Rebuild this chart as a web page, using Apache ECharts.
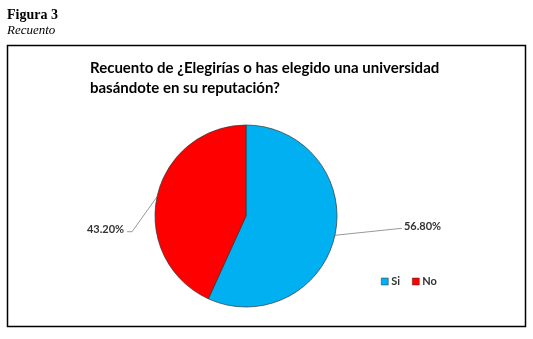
<!DOCTYPE html>
<html><head><meta charset="utf-8">
<script src="https://cdn.jsdelivr.net/npm/echarts@6/dist/echarts.min.js"></script>
<style>html,body{margin:0;padding:0;background:#fff}#c{width:533px;height:339px}</style>
</head><body><div id="c"></div>
<script>
const categories = ['Si', 'No'];
const values = [56.8, 43.2];
const colors = ['#00B0F0', '#FF0000'];

const chart = echarts.init(document.getElementById('c'), null, {renderer: 'canvas'});
chart.setOption({
  animation: false,
  title: [
    {text: 'Figura 3', left: 2, top: 3, textStyle: {fontFamily: 'Liberation Serif', fontWeight: 'bold', fontSize: 14, color: '#000'}},
    {text: 'Recuento', left: 2, top: 19, textStyle: {fontFamily: 'Liberation Serif', fontStyle: 'italic', fontWeight: 'normal', fontSize: 13, color: '#000'}},
    {text: 'Recuento de ¿Elegirías o has elegido una universidad\nbasándote en su reputación?', left: 85, top: 53,
     textStyle: {fontFamily: 'Lato', fontWeight: 'bold', fontSize: 15, lineHeight: 20, color: '#000'}}
  ],
  graphic: [{type: 'rect', shape: {x: 7.5, y: 45.5, width: 518, height: 281}, style: {fill: 'none', stroke: '#000', lineWidth: 1.5}, z: -1}],
  legend: {left: 376, top: 271, icon: 'rect', itemWidth: 7, itemHeight: 7, itemGap: 12,
    data: categories,
    itemStyle: {borderColor: '#333', borderWidth: 0.5},
    textStyle: {fontFamily: 'Lato', fontWeight: 'bold', fontSize: 11, color: '#333', padding: [0,0,0,-2]}},
  series: [{
    type: 'pie', center: [246, 216], radius: 91, startAngle: 90, clockwise: true,
    data: categories.map((c, i) => ({name: c, value: values[i], itemStyle: {color: colors[i]}})),
    itemStyle: {borderColor: '#333', borderWidth: 0.7},
    label: {show: true, formatter: p => p.value.toFixed(2) + '%', fontFamily: 'Lato', fontWeight: 'bold', fontSize: 11, color: '#333'},
    labelLine: {show: true, length: 4, length2: 60, smooth: false, lineStyle: {color: '#999', width: 1}},
    labelLayout: function (p) {
      const p0 = p.labelLinePoints[0];
      if (p.dataIndex === 0) {
        return {x: p0[0] + 69, y: p0[1] - 9, align: 'left', verticalAlign: 'middle',
          labelLinePoints: [p0, [p0[0] + 67, p0[1] - 7], [p0[0] + 67, p0[1] - 7]]};
      }
      return {x: p0[0] - 33, y: p0[1] + 33, align: 'right', verticalAlign: 'middle',
        labelLinePoints: [p0, [p0[0] - 25, p0[1] + 35], [p0[0] - 30, p0[1] + 35]]};
    }
  }]
});
</script></body></html>
